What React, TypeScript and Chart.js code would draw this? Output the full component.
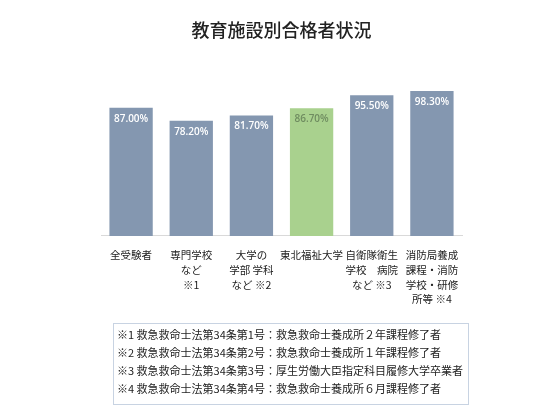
import { useEffect, useRef } from "react";
import { Chart, registerables } from "chart.js";

Chart.register(...registerables);

// 教育施設別の合格率
const categories: string[][] = [
  ["全受験者"],
  ["専門学校", "など", "※1"],
  ["大学の", "学部 学科", "など ※2"],
  ["東北福祉大学"],
  ["自衛隊衛生", "学校　病院", "など ※3"],
  ["消防局養成", "課程・消防", "学校・研修", "所等 ※4"],
];
const passRates = [87.0, 78.2, 81.7, 86.7, 95.5, 98.3];
const highlighted = "東北福祉大学";

const footnotes = [
  "※1 救急救命士法第34条第1号：救急救命士養成所２年課程修了者",
  "※2 救急救命士法第34条第2号：救急救命士養成所１年課程修了者",
  "※3 救急救命士法第34条第3号：厚生労働大臣指定科目履修大学卒業者",
  "※4 救急救命士法第34条第4号：救急救命士養成所６月課程修了者",
];

const title = "教育施設別合格者状況";

const CJK = '"Noto Sans CJK JP", "Noto Sans", sans-serif';

// バーの上部に値を描く
const valueLabels = {
  id: "valueLabels",
  afterDatasetsDraw(chart: Chart) {
    const ctx = chart.ctx;
    const meta = chart.getDatasetMeta(0);
    ctx.save();
    ctx.font = '600 10px "Open Sans", sans-serif';
    ctx.textAlign = "center";
    ctx.textBaseline = "middle";
    meta.data.forEach((bar: any, i: number) => {
      const isHi = categories[i].join("") === highlighted;
      ctx.fillStyle = isHi ? "#6f8c60" : "#ffffff";
      ctx.fillText(passRates[i].toFixed(2) + "%", bar.x, bar.y + 11);
    });
    ctx.restore();
  },
};

export default function App() {
  const canvasRef = useRef<HTMLCanvasElement | null>(null);

  useEffect(() => {
    if (!canvasRef.current) return;
    const chart = new Chart(canvasRef.current, {
      type: "bar",
      data: {
        labels: categories,
        datasets: [
          {
            data: passRates,
            backgroundColor: categories.map((c) =>
              c.join("") === highlighted ? "#a9d18e" : "#8497b0"
            ),
            barPercentage: 0.72,
            categoryPercentage: 1,
          },
        ],
      },
      options: {
        responsive: false,
        animation: false,
        devicePixelRatio: 1,
        layout: { padding: { left: 101, right: 88, top: 0, bottom: 0 } },
        plugins: {
          legend: { display: false },
          tooltip: { enabled: false },
          title: {
            display: true,
            text: title,
            color: "#222",
            font: { family: CJK, size: 18, weight: "500", lineHeight: 1.2 },
            padding: { top: 19, bottom: 48 },
          },
        },
        scales: {
          x: {
            grid: { display: false },
            border: { display: true, color: "#d9d9d9", width: 1 },
            ticks: {
              color: "#222",
              padding: 4,
              maxRotation: 0,
              autoSkip: false,
              font: { family: CJK, size: 10.5, lineHeight: 1.4 },
            },
            afterFit: (scale: any) => {
              scale.height = 176;
            },
          },
          y: {
            display: false,
            min: 0,
            max: 100,
          },
        },
      },
      plugins: [valueLabels],
    });
    return () => chart.destroy();
  }, []);

  return (
    <div
      style={{
        position: "absolute",
        left: 0,
        top: 0,
        width: 550,
        height: 412,
        background: "#fff",
      }}
    >
      <canvas
        ref={canvasRef}
        width={550}
        height={412}
        style={{ width: 550, height: 412, display: "block" }}
      />
      <div
        style={{
          position: "absolute",
          left: 113,
          top: 323,
          width: 351,
          height: 79,
          border: "1px solid #c8d3e2",
          fontFamily: CJK,
          fontSize: 11,
          lineHeight: "18px",
          color: "#222",
          padding: "1px 0 0 3px",
          boxSizing: "content-box",
          whiteSpace: "nowrap",
        }}
      >
        {footnotes.map((f) => (
          <div key={f}>{f}</div>
        ))}
      </div>
    </div>
  );
}
